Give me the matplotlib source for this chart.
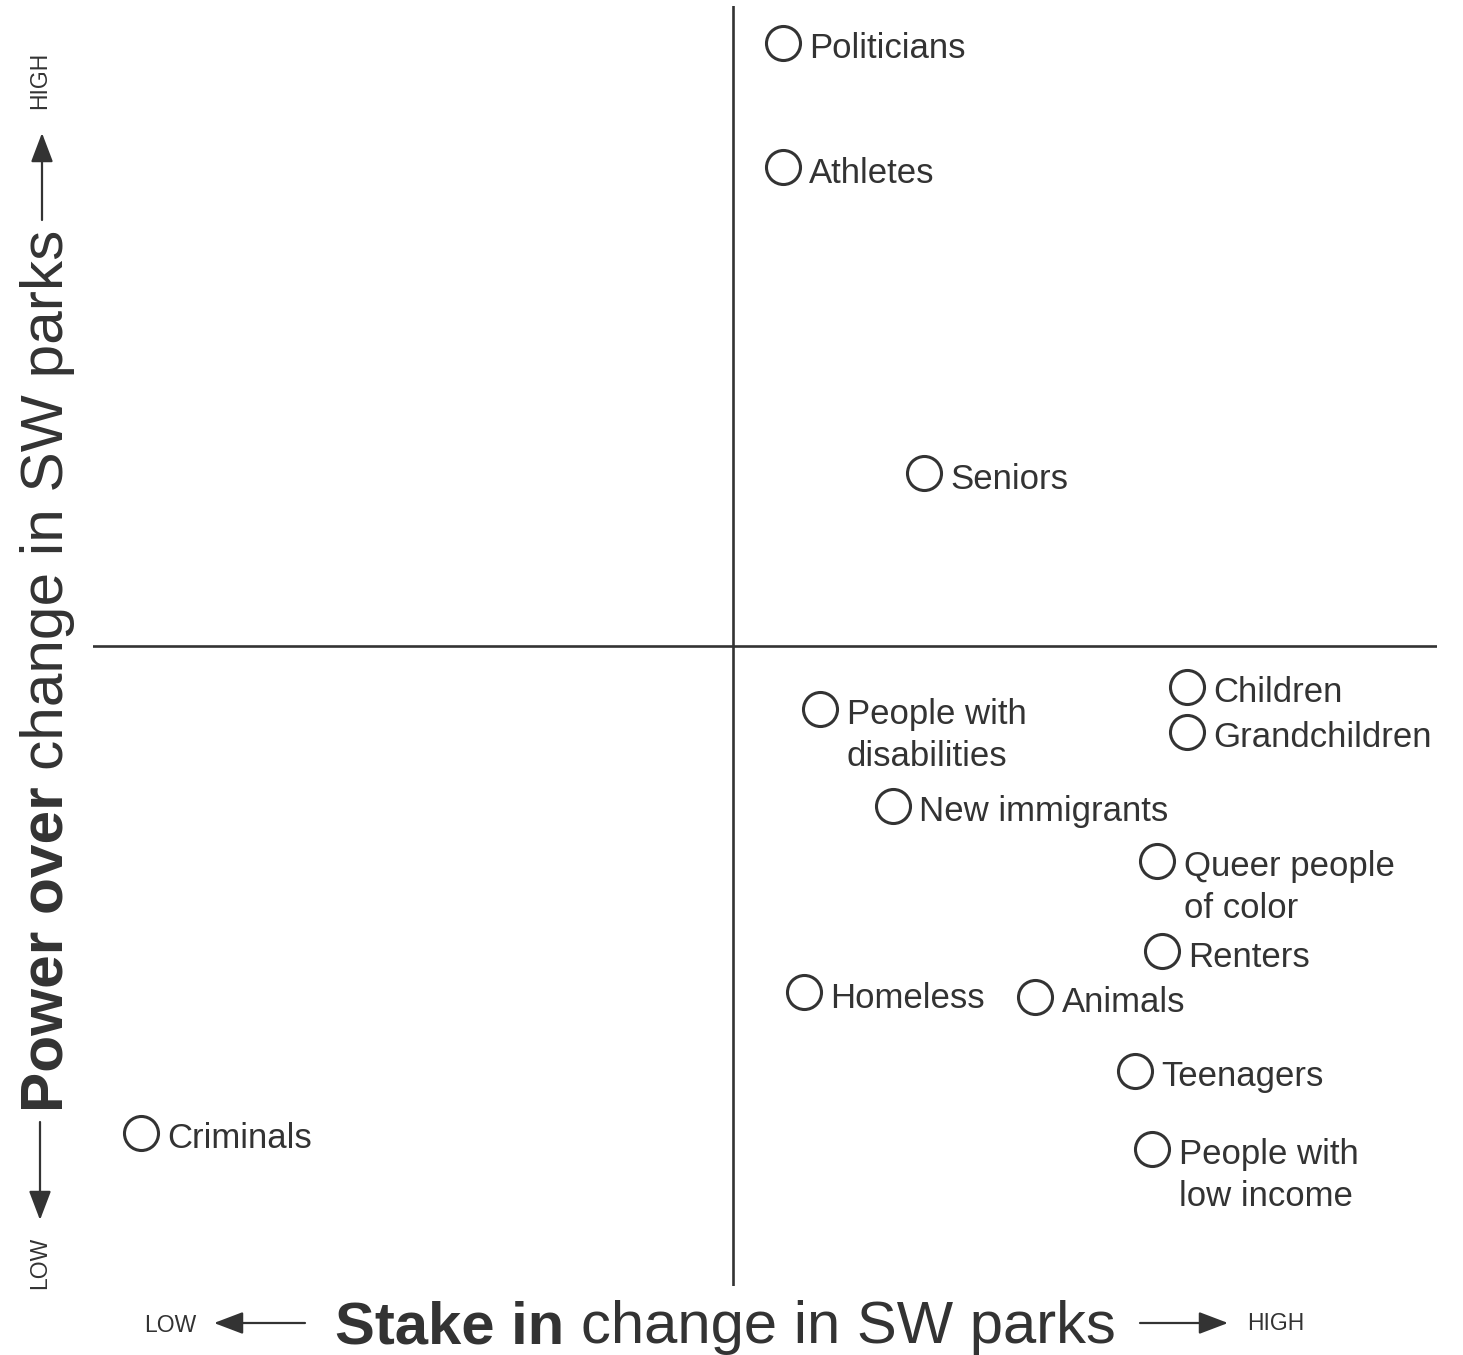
import matplotlib.pyplot as plt
from matplotlib.patches import FancyArrowPatch

plt.rcParams['font.family'] = ['Liberation Sans', 'DejaVu Sans']

INK = '#333333'

# stakeholder positions: stake (x) vs power (y), quadrants split at 0
groups = ['Politicians', 'Athletes', 'Seniors', 'Children', 'Grandchildren',
          'People with\ndisabilities', 'New immigrants', 'Queer people\nof color',
          'Renters', 'Homeless', 'Animals', 'Teenagers',
          'People with\nlow income', 'Criminals']
stake = [0.78, 0.78, 2.98, 7.09, 7.09, 1.36, 2.50, 6.63, 6.70, 1.11, 4.72, 6.28, 6.55, -9.25]
power = [9.42, 7.48, 2.70, -0.64, -1.34, -0.98, -2.50, -3.36, -4.77, -5.41, -5.48, -6.64, -7.86, -7.61]

fig = plt.figure(figsize=(14.63, 13.55), dpi=100)
ax = fig.add_axes([0.0636, 0.0509, 0.9187, 0.9446])
ax.set_xlim(-10, 11)
ax.set_ylim(-10, 10)
ax.axis('off')

# quadrant lines
ax.axvline(0, color=INK, lw=1.9)
ax.axhline(0, color=INK, lw=1.9)

ax.plot(stake, power, 'o', ms=24.5, mfc='white', mec=INK, mew=2.2,
        linestyle='none', clip_on=False, zorder=3)
# first line of each label sits level with its circle
for name, x, y in zip(groups, stake, power):
    for i, line in enumerate(name.split('\n')):
        ax.annotate(line, (x, y), xytext=(19, -11 - 30 * i), textcoords='offset points',
                    ha='left', va='baseline', fontsize=25, color=INK,
                    annotation_clip=False)

# axis titles with bold lead words
tx1 = fig.text(0.229, 1 - 1343 / 1355, 'Stake in ', fontsize=43, fontweight='bold',
               color=INK, ha='left', va='baseline')
ax.annotate('change in SW parks', xy=(1, 0), xycoords=tx1, ha='left', va='bottom',
            fontsize=43, color=INK, annotation_clip=False)

ty1 = fig.text(0.0135, 1 - 1112 / 1355, 'Power over ', fontsize=43.5, fontweight='bold',
               color=INK, rotation=90, ha='left', va='bottom')
ax.annotate('change in SW parks', xy=(0, 1), xycoords=ty1, ha='left', va='bottom',
            rotation=90, fontsize=43.5, color=INK, annotation_clip=False)

# LOW / HIGH markers with arrows
small = dict(fontsize=16.5, color=INK, ha='center', va='center')
fig.text(170 / 1463, 1 - 1325 / 1355, 'LOW', **small)
fig.text(1276 / 1463, 1 - 1323 / 1355, 'HIGH', **small)
fig.text(40 / 1463, 1 - 80 / 1355, 'HIGH', rotation=90, **small)
fig.text(40 / 1463, 1 - 1263 / 1355, 'LOW', rotation=90, **small)

arrow = dict(arrowstyle='-|>,head_length=1.0,head_width=0.38', color=INK,
             lw=1.6, mutation_scale=18, shrinkA=0, shrinkB=0)
arrows = [((305, 1323), (214, 1323)), ((1140, 1323), (1228, 1323)),
          ((42, 220), (42, 133)), ((40, 1122), (40, 1220))]
for (x0, y0), (x1, y1) in arrows:
    fig.add_artist(FancyArrowPatch((x0 / 1463, 1 - y0 / 1355), (x1 / 1463, 1 - y1 / 1355),
                                   transform=fig.transFigure, **arrow))

fig.savefig('out.png', dpi=100, facecolor='white')
